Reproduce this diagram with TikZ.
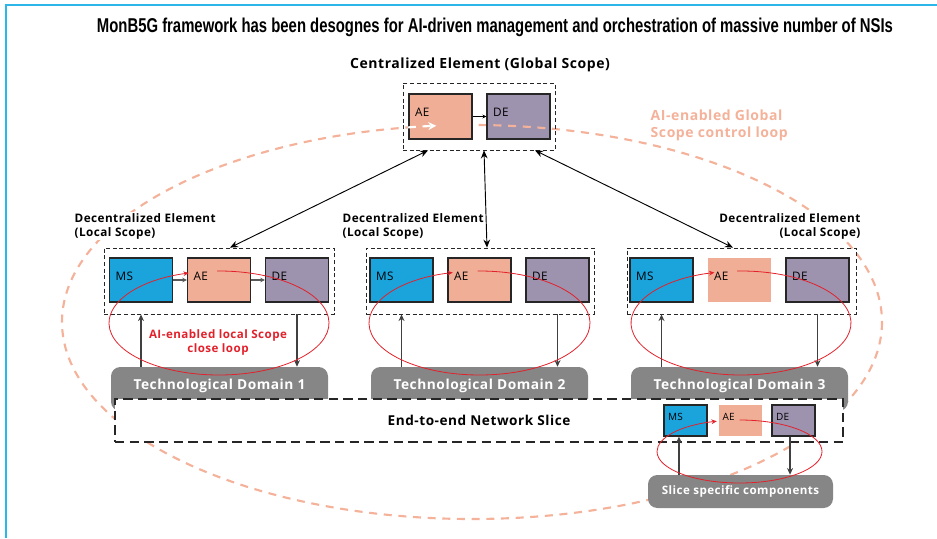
\documentclass[tikz,border=0pt]{standalone}
\usepackage{fontspec}
\usepackage{graphicx}
\setmainfont{Open Sans}[LetterSpace=4]
\newfontfamily\titlefont{Liberation Sans}
\usetikzlibrary{arrows.meta}
\definecolor{msblue}{HTML}{1BA3DC}
\definecolor{aesalmon}{HTML}{F0AE96}
\definecolor{depurple}{HTML}{9D93AE}
\definecolor{tdgray}{HTML}{868686}
\definecolor{loopred}{HTML}{E2212B}
\definecolor{globalloop}{HTML}{F4B29A}
\definecolor{frameblue}{HTML}{2DB7E9}
\tikzset{
  elem/.style={draw=black!85, line width=0.9pt, minimum width=47.25pt, minimum height=33pt,
    text width=38.25pt, inner xsep=4.5pt, align=left, text height=6pt, text depth=6pt,
    font=\fontsize{8.8}{9}\selectfont},
  msbox/.style={elem, fill=msblue},
  aebox/.style={elem, fill=aesalmon},
  aeplain/.style={elem, fill=aesalmon, draw=none},
  debox/.style={elem, fill=depurple},
  slicebox/.style={minimum width=32.25pt, minimum height=23.25pt, text width=26.25pt,
    inner xsep=3pt, text height=5pt, text depth=5pt, font=\fontsize{7.5}{8}\selectfont},
  container/.style={draw=black!85, dash pattern=on 3pt off 2pt, line width=0.6pt, minimum height=49.5pt},
  tdbox/.style={fill=tdgray, rounded corners=7pt, text=white, font=\bfseries\fontsize{10.3}{11}\selectfont,
    minimum width=162.75pt, minimum height=33pt, text height=6pt, text depth=6pt},
  scopelabel/.style={fill=white, inner sep=1pt, font=\bfseries\fontsize{8.8}{10.5}\selectfont},
  redloop/.style={loopred, line width=0.6pt, -{Stealth[length=4pt, width=3.5pt]}},
  updown/.style={draw=black!75, line width=0.9pt, -{Stealth[length=5pt, width=4.5pt]}},
  boxarrow/.style={draw=black!65, line width=1.4pt, -{Stealth[length=3.5pt, width=3.5pt]}},
  link/.style={line width=0.7pt, {Stealth[length=6pt, width=5pt]}-{Stealth[length=6pt, width=5pt]}},
  globaldash/.style={globalloop, line width=1.6pt, dash pattern=on 6pt off 5pt},
}
\begin{document}
\begin{tikzpicture}[x=0.75pt,y=-0.75pt]
  \useasboundingbox (0,0) rectangle (937,538);
  % frame
  \draw[frameblue, line width=1.5pt] (6,538) -- (6,5) -- (937,5);
  \node[font=\titlefont\bfseries\fontsize{15}{17}\selectfont] (title) at (495,27)
    {\resizebox{597pt}{\height}{MonB5G framework has been desognes for AI-driven management and orchestration of massive number of NSIs}};

  % global control loop (behind)
  \draw[globaldash] (472,322) ellipse [x radius=410, y radius=197];

  % centralized element
  \node[font=\bfseries\fontsize{10.5}{12}\selectfont] (ctitle) at (480,65) {Centralized Element (Global Scope)};
  \node[container, minimum width=114pt, minimum height=50.25pt] (central) at (479,116.5) {};
  \node[aebox, minimum height=33.75pt] (cae) at (440.5,116.5) {AE};
  \node[debox, minimum height=33.75pt] (cde) at (518.5,116.5) {DE};
  \draw[line width=0.5pt, -{Stealth[length=3pt, width=3pt]}] (cae) -- (cde);
  \draw[globaldash] (472,322) ++(273:410 and 197) arc[start angle=273, end angle=281, x radius=410, y radius=197];
  \draw[globaldash, white, -{Stealth[length=6pt, width=6pt]}] (472,322) ++(261:410 and 197)
    arc[start angle=261, end angle=265, x radius=410, y radius=197];
  \node[font=\bfseries\fontsize{10.5}{12.5}\selectfont, text=globalloop, align=left, anchor=west] (glabel)
    at (646,125.5) {AI-enabled Global\\Scope control loop};

  % decentralized elements
  \node[scopelabel, align=left, anchor=west] (llabel1) at (73,226) {Decentralized Element\\(Local Scope)};
  \node[scopelabel, align=left, anchor=west] (llabel2) at (341,226) {Decentralized Element\\(Local Scope)};
  \node[scopelabel, align=right, anchor=east] (llabel3) at (862,226) {Decentralized Element\\(Local Scope)};

  \node[container, minimum width=172.5pt] (local1) at (219,281) {};
  \node[msbox] (ms1) at (141,280) {MS};
  \node[aebox] (ae1) at (219,280) {AE};
  \node[debox] (de1) at (297,280) {DE};
  \draw[boxarrow] (ms1) -- (ae1);
  \draw[boxarrow] (ae1) -- (de1);

  \node[container, minimum width=171pt] (local2) at (480,281) {};
  \node[msbox] (ms2) at (401.5,280) {MS};
  \node[aebox] (ae2) at (479.5,280) {AE};
  \node[debox] (de2) at (557.5,280) {DE};

  \node[container, minimum width=171.75pt] (local3) at (741.5,281) {};
  \node[msbox] (ms3) at (661.5,280) {MS};
  \node[aeplain] (ae3) at (739.5,280) {AE};
  \node[debox] (de3) at (817.5,280) {DE};

  % links to the centralized element
  \draw[link] ([xshift=8.25pt]local1.north) -- ([xshift=-38.25pt]central.south);
  \draw[link] ([xshift=5.25pt]local2.north) -- ([xshift=3.75pt]central.south);
  \draw[link] ([xshift=-6.4pt]local3.north) -- ([xshift=42pt]central.south);

  % technological domains
  \node[tdbox] (td1) at (219.5,389) {Technological Domain 1};
  \node[tdbox] (td2) at (479.5,389) {Technological Domain 2};
  \node[tdbox] (td3) at (739.5,389) {Technological Domain 3};
  \draw[updown] (td1.north -| ms1) -- (local1.south -| ms1);
  \draw[updown] (local1.south -| de1) -- (td1.north -| de1);
  \draw[updown] (td2.north -| ms2) -- (local2.south -| ms2);
  \draw[updown] (local2.south -| de2) -- (td2.north -| de2);
  \draw[updown] (td3.north -| ms3) -- (local3.south -| ms3);
  \draw[updown] (local3.south -| de3) -- (td3.north -| de3);

  % end-to-end slice
  \node[fill=white, draw=black!85, line width=1pt, dash pattern=on 7pt off 4pt, minimum width=546pt, minimum height=32.25pt,
    font=\bfseries\fontsize{10.2}{11}\selectfont] (e2e) at (479,420.5) {End-to-end Network Slice};
  \node[elem, slicebox, fill=msblue] (sms) at (685.5,420.5) {MS};
  \node[elem, slicebox, fill=aesalmon, draw=none] (sae) at (740,420.5) {AE};
  \node[elem, slicebox, fill=depurple] (sde) at (793.5,420.5) {DE};
  \node[fill=tdgray, rounded corners=7pt, text=white, minimum width=138.75pt, minimum height=24.75pt,
    font=\bfseries\fontsize{8.7}{10}\selectfont] (slice) at (740.5,491.5) {Slice specific components};
  \coordinate (sup) at ([xshift=-4.9pt]sms.south);
  \coordinate (sdown) at ([xshift=-2.6pt]sde.south);
  \draw[updown] (sup |- slice.north) -- (sup);
  \draw[updown] (sdown) -- (sdown |- slice.north);

  % local control loops
  \draw[redloop] (219,323) ++(269:110 and 52) arc[start angle=269, end angle=614, x radius=110, y radius=52];
  \draw[redloop] (479.5,323) ++(269:110.5 and 52) arc[start angle=269, end angle=616, x radius=110.5, y radius=52];
  \draw[redloop] (741,323) ++(268:110 and 52) arc[start angle=268, end angle=616, x radius=110, y radius=52];
  \draw[redloop] (739.5,451.5) ++(270:82.5 and 31.5) arc[start angle=270, end angle=614, x radius=82.5, y radius=31.5];
  \node[font=\bfseries\fontsize{8.7}{11}\selectfont, text=loopred, align=center] (rlabel) at (218,342.5)
    {AI-enabled local Scope\\close loop};
\end{tikzpicture}
\end{document}
